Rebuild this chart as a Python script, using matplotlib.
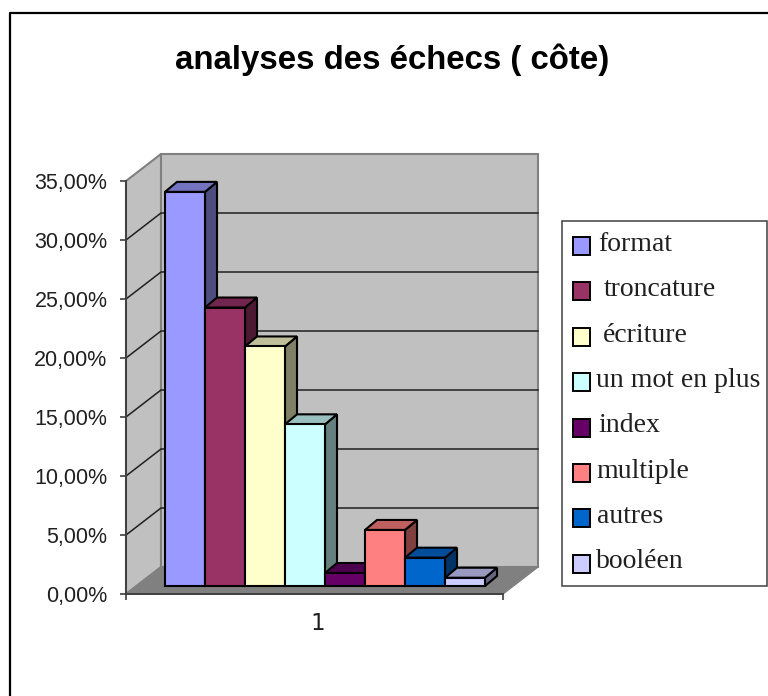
import numpy as np
import matplotlib
matplotlib.use('Agg')
from matplotlib import pyplot as plt
from matplotlib.patches import Polygon, Rectangle

W, H = 768, 696

categories = ['format', 'troncature', 'écriture', 'un mot en plus',
              'index', 'multiple', 'autres', 'booléen']
values = [33.4, 23.6, 20.3, 13.7, 1.1, 4.75, 2.4, 0.7]
colors = ['#9999FF', '#993366', '#FFFFCC', '#CCFFFF',
          '#660066', '#FF8080', '#0066CC', '#CCCCFF']
yticks = [0, 5, 10, 15, 20, 25, 30, 35]
ytick_labels = ['0,00%', '5,00%', '10,00%', '15,00%',
                '20,00%', '25,00%', '30,00%', '35,00%']
legend_text_x = [598, 604, 603, 596, 598, 596, 597, 596]

def shade(color, f):
    rgb = np.array(matplotlib.colors.to_rgb(color))
    return tuple(rgb * f)

def px(x, y):
    # figure position from pixel coordinates, origin top left
    return x / W, 1 - y / H

fig = plt.figure(figsize=(W / 100, H / 100), dpi=100)
fig.patch.set_facecolor('white')

# outer frame, only the top and left edges fall inside the figure
fig.add_artist(plt.Line2D([10 / W, 10 / W, 1], [0, 1 - 13 / H, 1 - 13 / H],
                          transform=fig.transFigure, color='black', lw=1.6))

fig.text(392 / W, 1 - 60 / H, 'analyses des échecs ( côte)', ha='center', va='center',
         family='Liberation Sans', weight='bold', fontsize=23.8)

# axes spans the front plane of the floor: 1 x unit is one bar, y is the percentage
x0, x1, y0, y1 = 126, 503, 594, 181
per_x = 40.0
per_y = (y0 - y1) / 35.0
ax = fig.add_axes([x0 / W, 1 - y0 / H, (x1 - x0) / W, (y0 - y1) / H])
xmax = (x1 - x0) / per_x
ax.set_xlim(0, xmax)
ax.set_ylim(0, 35)
ax.patch.set_visible(False)
for side in ['top', 'right']:
    ax.spines[side].set_visible(False)
for side in ['left', 'bottom']:
    ax.spines[side].set_color('#404040')
    ax.spines[side].set_linewidth(1.4)

wall_dx, wall_dy = 35 / per_x, 27 / per_y

# side wall, back wall, floor
ax.add_patch(Polygon([(0, 0), (wall_dx, wall_dy), (wall_dx, 35 + wall_dy), (0, 35)],
                     fc='#C0C0C0', ec='#808080', lw=1.5, clip_on=False, zorder=1))
ax.add_patch(Polygon([(wall_dx, wall_dy), (xmax + wall_dx, wall_dy),
                      (xmax + wall_dx, 35 + wall_dy), (wall_dx, 35 + wall_dy)],
                     fc='#C0C0C0', ec='#808080', lw=1.5, clip_on=False, zorder=1))
ax.add_patch(Polygon([(0, 0), (xmax, 0), (xmax + wall_dx, wall_dy), (wall_dx, wall_dy)],
                     fc='#808080', ec='#808080', lw=1, clip_on=False, zorder=1.5))

# gridlines run along the side wall then the back wall
for t in yticks[1:-1]:
    ax.plot([0, wall_dx, xmax + wall_dx], [t, t + wall_dy, t + wall_dy],
            color='#202020', lw=1.1, clip_on=False, zorder=2)

# bars sit a little behind the front edge
bar_x0 = (165 - x0) / per_x
base = (y0 - 586) / per_y
dx, dy = 12 / per_x, 10 / per_y
for i, (v, c) in enumerate(zip(values, colors)):
    left, right = bar_x0 + i, bar_x0 + i + 1
    top = base + v
    z = 3 + i * 0.01
    ax.add_patch(Polygon([(right, base), (right + dx, base + dy), (right + dx, top + dy), (right, top)],
                         fc=shade(c, 0.5), ec='black', lw=1.5, clip_on=False, zorder=z, joinstyle='miter'))
    ax.add_patch(Polygon([(left, top), (right, top), (right + dx, top + dy), (left + dx, top + dy)],
                         fc=shade(c, 0.75), ec='black', lw=1.5, clip_on=False, zorder=z, joinstyle='miter'))
    ax.add_patch(Rectangle((left, base), 1, v, fc=c, ec='black', lw=1.5,
                           clip_on=False, zorder=z + 0.005))

ax.set_yticks(yticks)
ax.set_yticklabels(ytick_labels, family='Liberation Sans', fontsize=15.5, color='#202020')
ax.set_xticks([0, xmax])
ax.set_xticklabels(['', ''])
ax.tick_params(axis='both', length=4.3, width=1.2, color='#404040')
ax.tick_params(axis='y', pad=9)
ax.text((318 - x0) / per_x, -3.05, '1', ha='center', va='baseline',
        family='DejaVu Sans', fontsize=16.5, color='#202020')

# legend box
fig.add_artist(Rectangle(px(562, 586), 205 / W, 365 / H, transform=fig.transFigure,
                         fc='white', ec='#404040', lw=1.1))
for i, (name, c) in enumerate(zip(categories, colors)):
    fig.add_artist(Rectangle(px(573, 255 + i * 45.4), 17 / W, 18 / H,
                             transform=fig.transFigure, fc=c, ec='black', lw=1.4))
    fig.text(legend_text_x[i] / W, 1 - (251 + i * 45.3) / H, name, ha='left', va='baseline',
             family='Liberation Serif', fontsize=20, color='#202020')

fig.savefig('out.png', dpi=100)
